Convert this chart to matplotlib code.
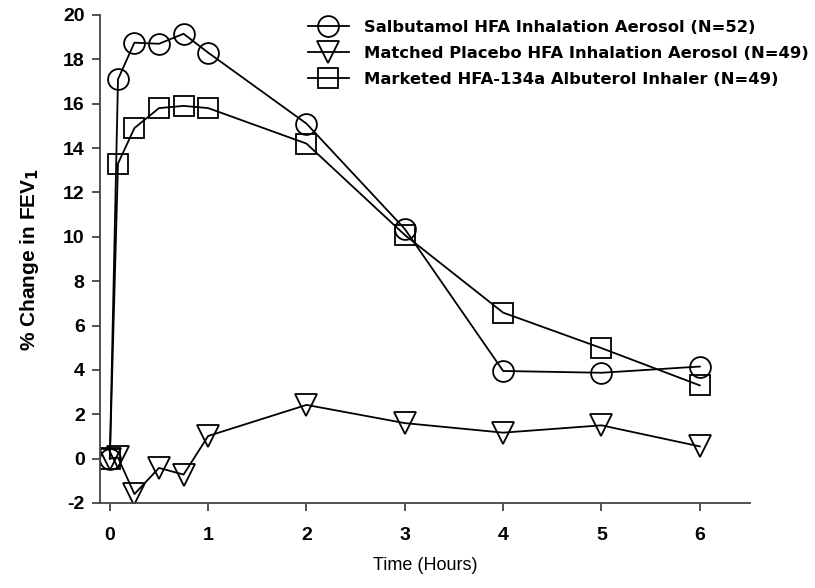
import matplotlib
matplotlib.use("Agg")
import matplotlib.pyplot as plt

plt.rcParams['font.family'] = ['Liberation Sans', 'DejaVu Sans']
plt.rcParams['axes.unicode_minus'] = False

hours = [0, 0.083, 0.25, 0.5, 0.75, 1, 2, 3, 4, 5, 6]
salbutamol = [0, 17.1, 18.75, 18.7, 19.15, 18.3, 15.1, 10.35, 3.95, 3.87, 4.15]
placebo = [0, 0.05, -1.6, -0.42, -0.72, 1.02, 2.42, 1.6, 1.17, 1.5, 0.55]
albuterol = [0, 13.3, 14.9, 15.8, 15.9, 15.8, 14.2, 10.08, 6.58, 4.98, 3.3]

labels = ["Salbutamol HFA Inhalation Aerosol (N=52)",
          "Matched Placebo HFA Inhalation Aerosol (N=49)",
          "Marketed HFA-134a Albuterol Inhaler (N=49)"]

fig = plt.figure(figsize=(8.15, 5.88), dpi=100)
ax = fig.add_axes([0.1227, 0.1446, 0.7975, 0.83])

lw = 1.3
ax.plot(hours, salbutamol, color='black', lw=lw, marker='o', ms=15,
        mfc='none', mec='black', mew=1.3, label=labels[0])
ax.plot(hours, placebo, color='black', lw=lw, marker='v', ms=16,
        mfc='none', mec='black', mew=1.3, label=labels[1])
ax.plot(hours, albuterol, color='black', lw=lw, marker='s', ms=14,
        mfc='none', mec='black', mew=1.3, label=labels[2])

ax.set_xlim(-0.1, 6.51)
ax.set_ylim(-2, 20)
ax.set_xticks(range(0, 7))
ax.set_yticks(range(-2, 21, 2))
ax.spines['top'].set_visible(False)
ax.spines['right'].set_visible(False)
for s in ['left', 'bottom']:
    ax.spines[s].set_color('#444444')
    ax.spines[s].set_linewidth(1.3)
ax.tick_params(direction='out', length=6, width=1.3, color='#444444')
for t in ax.get_xticklabels() + ax.get_yticklabels():
    t.set_fontsize(14)
    t.set_fontweight('bold')
ax.tick_params(axis='x', pad=11)
ax.tick_params(axis='y', pad=5)

ax.set_xlabel("Time (Hours)", fontsize=13, labelpad=10)
ax.set_ylabel("% Change in FEV$_\\mathbf{1}$", fontsize=15, fontweight='bold', labelpad=16)

leg = ax.legend(loc='upper left', bbox_to_anchor=(0.32, 0.99), frameon=False,
                prop={'family': 'DejaVu Sans', 'weight': 'bold', 'size': 11.8},
                handlelength=2.5, handletextpad=0.9, labelspacing=0.68,
                borderpad=0, borderaxespad=0, markerscale=1.0)

fig.savefig("out.png", dpi=100)
